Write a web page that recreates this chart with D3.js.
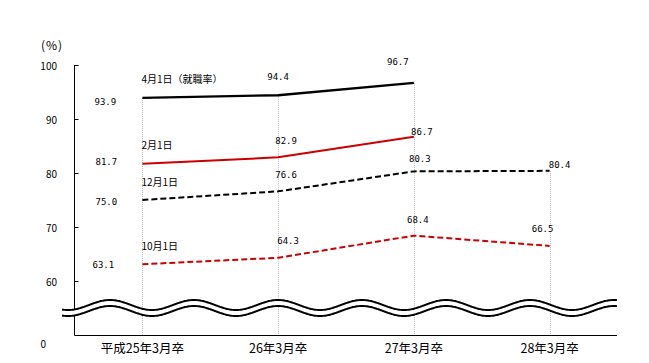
<!DOCTYPE html>
<html><head><meta charset="utf-8">
<script src="https://cdn.jsdelivr.net/npm/d3@7"></script>
<style>body{margin:0;background:#fff}</style>
</head><body>
<svg id="c" width="649" height="363"></svg>
<script>
const categories = ["平成25年3月卒","26年3月卒","27年3月卒","28年3月卒"];
const seriesNames = ["4月1日（就職率）","2月1日","12月1日","10月1日"];
const apr1 = [93.9, 94.4, 96.7, null];
const feb1 = [81.7, 82.9, 86.7, null];
const dec1 = [75.0, 76.6, 80.3, 80.4];
const oct1 = [63.1, 64.3, 68.4, 66.5];
const yTicks = [60, 70, 80, 90, 100];

// layout (not data)
const styles = [
  {color:"#000", dash:null, w:2.3},
  {color:"#cc0000", dash:null, w:2},
  {color:"#000", dash:"6,3", w:2},
  {color:"#cc0000", dash:"6,3", w:2}
];
const labelOffsets = [
  [[-37,4],[0,-18.5],[-16,-21],null],
  [[-36,-2],[8,-16.6],[8,-5],null],
  [[-36,1.7],[8,-16.4],[6,-12.4],[10,-6]],
  [[-39,0.7],[10,-17],[4,-15.6],[-7,-17]]
];

const series = [apr1, feb1, dec1, oct1];
const svg = d3.select("#c");
const x = d3.scalePoint().domain(categories).range([74.5, 617.5]).padding(0.5);
const y = d3.scaleLinear().domain([60, 100]).range([281, 65]);
const axisX = 74.5, bottomY = 335.5;
const cjk = "'Noto Sans CJK JP', sans-serif";
const mono = "'DejaVu Sans Mono', monospace";

// vertical dotted gridlines
categories.forEach((c, i) => {
  const top = d3.max(series, s => s[i]);
  svg.append("line").attr("x1", Math.round(x(c))+0.5).attr("x2", Math.round(x(c))+0.5)
    .attr("y1", y(top)).attr("y2", bottomY)
    .attr("stroke", "#b8b4c0").attr("stroke-width", 1).attr("stroke-dasharray", "1,1");
});

// axes
svg.append("line").attr("x1", axisX).attr("x2", axisX).attr("y1", y(100)).attr("y2", bottomY).attr("stroke", "#000");
svg.append("line").attr("x1", axisX).attr("x2", 617).attr("y1", bottomY).attr("y2", bottomY).attr("stroke", "#000");
yTicks.forEach(t => {
  svg.append("line").attr("x1", axisX).attr("x2", axisX+4).attr("y1", Math.round(y(t))+0.5).attr("y2", Math.round(y(t))+0.5).attr("stroke", "#000");
  svg.append("text").attr("x", 57).attr("y", y(t)).attr("text-anchor", "end").attr("dominant-baseline", "central")
    .attr("font-family", cjk).attr("font-size", 10).text(t);
});
svg.append("text").attr("x", 46).attr("y", 343).attr("text-anchor", "end").attr("dominant-baseline", "central")
  .attr("font-family", cjk).attr("font-size", 10).text(0);
svg.append("text").attr("x", 41).attr("y", 44).attr("dominant-baseline", "central")
  .attr("font-family", cjk).attr("font-size", 12).attr("letter-spacing", 1).text("(%)");

// category labels
categories.forEach(c => {
  svg.append("text").attr("x", x(c)).attr("y", 347).attr("text-anchor", "middle").attr("dominant-baseline", "central")
    .attr("font-family", cjk).attr("font-size", 12.5).text(c);
});

// break waves
const wave = (cy) => {
  const pts = d3.range(62, 617.5, 1).map(px => [px, cy - 5*Math.sin(2*Math.PI*(px-89)/84)]);
  return d3.line()(pts);
};
svg.append("path").attr("d", wave(308)).attr("fill", "none").attr("stroke", "#fff").attr("stroke-width", 6);
svg.append("path").attr("d", wave(305)).attr("fill", "none").attr("stroke", "#000").attr("stroke-width", 2);
svg.append("path").attr("d", wave(311)).attr("fill", "none").attr("stroke", "#000").attr("stroke-width", 2);

// lines
const line = d3.line().defined(d => d.v != null).x(d => x(d.c)).y(d => y(d.v));
series.forEach((s, si) => {
  const pts = s.map((v, i) => ({c: categories[i], v}));
  svg.append("path").attr("d", line(pts)).attr("fill", "none")
    .attr("stroke", styles[si].color).attr("stroke-width", styles[si].w)
    .attr("stroke-dasharray", styles[si].dash);
  // series name
  svg.append("text").attr("x", x(categories[0]) - 1).attr("y", y(s[0]) - 19).attr("dominant-baseline", "central")
    .attr("font-family", cjk).attr("font-size", 10).text(seriesNames[si]);
  // value labels
  s.forEach((v, i) => {
    if (v == null) return;
    const o = labelOffsets[si][i];
    svg.append("text").attr("x", x(categories[i]) + o[0]).attr("y", y(v) + o[1])
      .attr("text-anchor", "middle").attr("dominant-baseline", "central")
      .attr("font-family", mono).attr("font-size", 9).text(v.toFixed(1));
  });
});
</script>
</body></html>
